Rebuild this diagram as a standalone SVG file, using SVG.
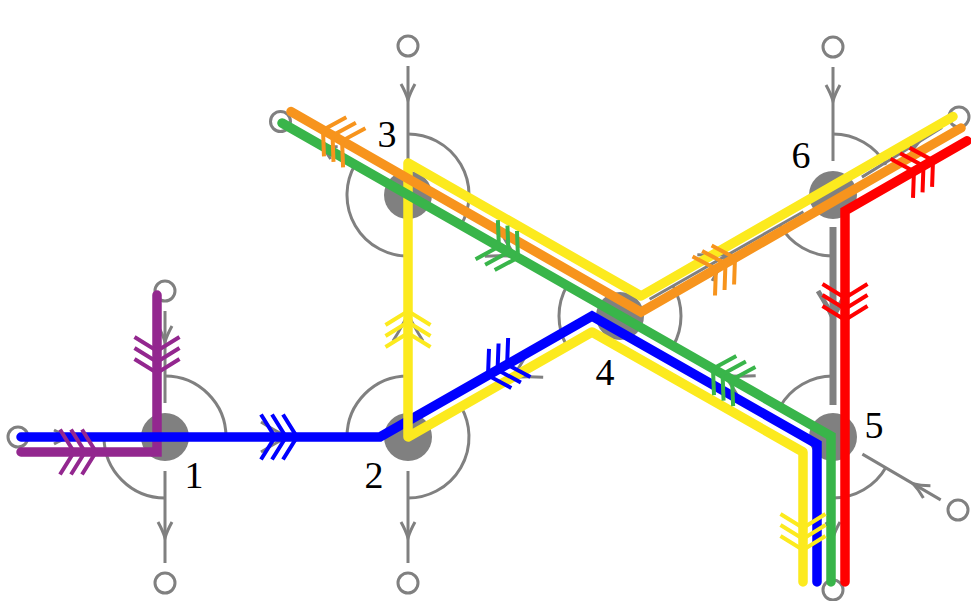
<svg xmlns="http://www.w3.org/2000/svg" width="971" height="601" viewBox="0 0 971 601">
<style>
.road{fill:none;stroke:#808080;stroke-width:3}
.thick{stroke-width:7}
.endc{fill:#fff;stroke:#808080;stroke-width:3}
.disk{fill:#808080}
.lbl{font-family:"Liberation Serif","DejaVu Serif",serif;font-size:38px;text-anchor:middle;fill:#000}
.route{fill:none;stroke-width:9.5;stroke-linecap:round;stroke-linejoin:miter}
.mark{fill:none;stroke-width:4;stroke-linejoin:miter}
.ga{fill:none;stroke:#808080;stroke-width:3}
</style>
<defs>
<path id="arrS" d="M-16,-7 Q-7,-2 0,0 Q-7,2 -16,7"/>
<path id="arrL" d="M-27,-15 Q-11,-5 0,0 Q-11,5 -27,15"/>
<path id="chev" d="M-14,-22.5L0,0L-14,22.5M-25,-22.5L-11,0L-25,22.5M-36,-22.5L-22,0L-36,22.5"/>
</defs>
<rect width="971" height="601" fill="#fff"/>

<g id="roads">
<path class="road" d="M199,437H374"/>
<use href="#arrL" class="ga" transform="translate(288,437)"/>
<path class="road" d="M408,403V229"/>
<use href="#arrL" class="ga" transform="translate(408,314) rotate(-90)"/>
<path class="road" d="M590.5,332.9L437.5,420.1"/>
<use href="#arrL" class="ga" transform="translate(512.3,377.5) rotate(150.3)"/>
<path class="road" d="M437.5,211.9L590.5,299.1"/>
<use href="#arrL" class="ga" transform="translate(515.7,256.5) rotate(29.7)"/>
<path class="road" d="M803.4,420.2L649.6,332.8"/>
<use href="#arrL" class="ga" transform="translate(724.8,375.5) rotate(209.6)"/>
<path class="road" d="M649.6,299.2L803.4,211.8"/>
<use href="#arrL" class="ga" transform="translate(728.2,254.5) rotate(-29.6)"/>
<path class="road thick" d="M833,227V405"/>
<use href="#arrL" class="ga" style="stroke-width:5" transform="translate(833,318) rotate(90)"/>
</g>

<g id="node1">
<path class="road" d="M165,376A61,61 0 0 1 226,437M104,437A61,61 0 0 0 165,498"/>
<path class="road" d="M165,311V403M38,437H131M165,471V563"/>
<use href="#arrS" class="ga" transform="translate(165,342) rotate(90)"/>
<use href="#arrS" class="ga" transform="translate(70,437)"/>
<use href="#arrS" class="ga" transform="translate(165,538) rotate(90)"/>
<circle class="endc" cx="165" cy="291" r="10"/>
<circle class="endc" cx="18" cy="437" r="10"/>
<circle class="endc" cx="165" cy="583" r="10"/>
<circle class="disk" cx="165" cy="437" r="24"/>
<text class="lbl" x="194" y="488">1</text>
</g>

<g id="node2">
<path class="road" d="M347,437A61,61 0 0 1 408,376M461,406.8A61,61 0 0 1 408,498"/>
<path class="road" d="M408,471V563"/>
<use href="#arrS" class="ga" transform="translate(408,538) rotate(90)"/>
<circle class="endc" cx="408" cy="583" r="10"/>
<circle class="disk" cx="408" cy="437" r="24"/>
<text class="lbl" x="374" y="488">2</text>
</g>

<g id="node3">
<path class="road" d="M408,134A61,61 0 0 1 461,225.2M355,164.8A61,61 0 0 0 408,256"/>
<path class="road" d="M408,66V161M378.5,178.1L297.7,132"/>
<use href="#arrS" class="ga" transform="translate(408,100) rotate(90)"/>
<use href="#arrS" class="ga" transform="translate(320.3,144.9) rotate(209.7)"/>
<circle class="endc" cx="408" cy="46" r="10"/>
<circle class="endc" cx="280.5" cy="121.5" r="10"/>
<circle class="disk" cx="408" cy="195" r="24"/>
<text class="lbl" x="387" y="147">3</text>
</g>

<g id="node4">
<path class="road" d="M567,285.8A61,61 0 0 0 567,346.2M673,285.8A61,61 0 0 1 673,346.2"/>
<circle class="disk" cx="620" cy="316" r="24"/>
<text class="lbl" x="605" y="385">4</text>
</g>

<g id="node5">
<path class="road" d="M780,406.8A61,61 0 0 1 833,376M886,467.2A61,61 0 0 1 833,498"/>
<path class="road" d="M862.4,454.1L940.7,499.9M833,471V570"/>
<use href="#arrS" class="ga" transform="translate(913.1,483.8) rotate(210.3)"/>
<use href="#arrS" class="ga" transform="translate(833,538) rotate(90)"/>
<circle class="endc" cx="958" cy="510" r="10"/>
<circle class="endc" cx="833" cy="590" r="10"/>
<circle class="disk" cx="833" cy="437" r="24"/>
<text class="lbl" x="874" y="438">5</text>
</g>

<g id="node6">
<path class="road" d="M833,134A61,61 0 0 1 886,164.8M780,225.2A61,61 0 0 0 833,256"/>
<path class="road" d="M833,67V161M861.9,177.1L942,127.5"/>
<use href="#arrS" class="ga" transform="translate(833,101) rotate(90)"/>
<use href="#arrS" class="ga" transform="translate(918.9,141.9) rotate(-31.8)"/>
<circle class="endc" cx="833" cy="47" r="10"/>
<circle class="endc" cx="959" cy="117" r="10"/>
<circle class="disk" cx="833" cy="195" r="24"/>
<text class="lbl" x="801" y="168">6</text>
</g>

<g id="routes">
<path class="route" stroke="#93278F" d="M157,295L157,452L21,452"/>
<path class="route" stroke="#0000FF" d="M21,437L380,437L592,316L817,444L817,582"/>
<path class="route" stroke="#FCEA1E" style="stroke-linejoin:round" d="M953,116.6L641,296L408,163L408,437L592,332L803,452L803,582"/>
<path class="route" stroke="#39B54A" d="M282,123L831,436L831,582"/>
<path class="route" stroke="#F7941D" d="M291,111.6L641,312L961,128"/>
<path class="route" stroke="#FF0000" d="M967,140.8L845,211L845,582"/>
</g>

<g id="route-marks">
<use href="#chev" class="mark" stroke="#93278F" transform="translate(157,373) rotate(90)"/>
<use href="#chev" class="mark" stroke="#93278F" transform="translate(96,452)"/>
<use href="#chev" class="mark" stroke="#0000FF" transform="translate(297,437)"/>
<use href="#chev" class="mark" stroke="#0000FF" transform="translate(488,375.4) rotate(150.3)"/>
<use href="#chev" class="mark" stroke="#FCEA1E" transform="translate(408,311) rotate(-90)"/>
<use href="#chev" class="mark" stroke="#FCEA1E" transform="translate(803,550) rotate(90)"/>
<use href="#chev" class="mark" stroke="#39B54A" transform="translate(518,257.5) rotate(29.7)"/>
<use href="#chev" class="mark" stroke="#39B54A" transform="translate(713,368.7) rotate(209.7)"/>
<use href="#chev" class="mark" stroke="#F7941D" transform="translate(323,129.9) rotate(209.8)"/>
<use href="#chev" class="mark" stroke="#F7941D" transform="translate(735,258) rotate(-29.9)"/>
<use href="#chev" class="mark" stroke="#FF0000" transform="translate(933,160.4) rotate(-29.9)"/>
<use href="#chev" class="mark" stroke="#FF0000" transform="translate(845,320) rotate(90)"/>
</g>
</svg>
